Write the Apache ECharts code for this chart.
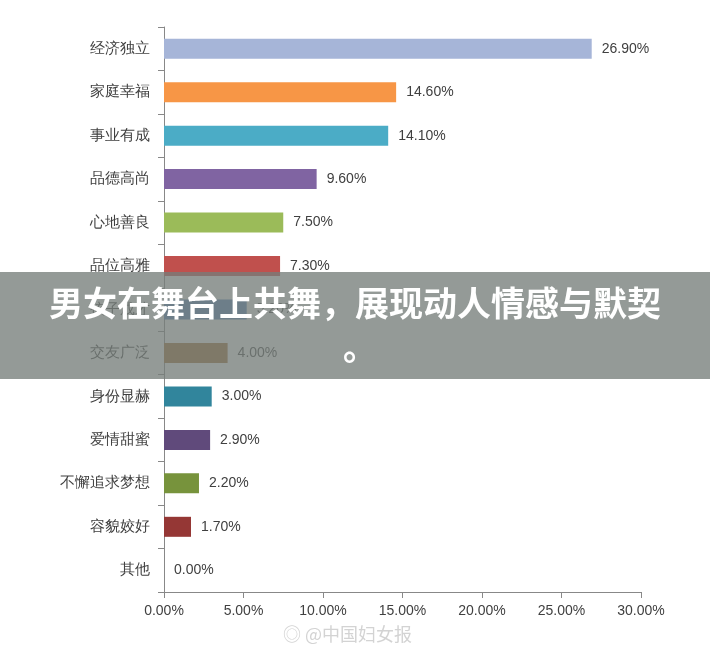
<!DOCTYPE html><html><head><meta charset="utf-8"><script src="https://cdn.jsdelivr.net/npm/echarts@6/dist/echarts.min.js"></script>
<style>body{margin:0}#c{width:710px;height:655px}</style></head><body><div id="c"></div><script>
const categories=['经济独立','家庭幸福','事业有成','品德高尚','心地善良','品位高雅','孩子成才','交友广泛','身份显赫','爱情甜蜜','不懈追求梦想','容貌姣好','其他'];
const values=[26.9,14.6,14.1,9.6,7.5,7.3,5.2,4.0,3.0,2.9,2.2,1.7,0.0];
const colors=['#a6b5d8','#f79646','#4bacc6','#8064a2','#9bbb59','#c0504d','#4f81bd','#a0682a','#31859c','#604a7b','#77933c','#953735','#888'];
const xTicks=[0,5,10,15,20,25,30];
const ch=echarts.init(document.getElementById('c'));
ch.setOption({animation:false,
grid:{left:164,right:69,top:27,bottom:63},
xAxis:{type:'value',min:0,max:30,interval:5,splitLine:{show:false},axisLine:{show:true,lineStyle:{color:'#888'}},axisTick:{show:true,length:6,lineStyle:{color:'#888'}},
axisLabel:{formatter:v=>v.toFixed(2)+'%',color:'#404040',fontSize:14,margin:12}},
yAxis:{type:'category',inverse:true,data:categories,axisLine:{lineStyle:{color:'#888'}},axisTick:{show:true,length:6,lineStyle:{color:'#888'}},
axisLabel:{color:'#404040',fontSize:15,margin:14}},
series:[{type:'bar',barWidth:20,data:values.map((v,i)=>({value:v,itemStyle:{color:colors[i]}})),
label:{show:true,position:'right',distance:10,formatter:p=>p.value.toFixed(2)+'%',color:'#404040',fontSize:14}}],
graphic:[
{type:'rect',shape:{x:0,y:272,width:710,height:107},style:{fill:'rgba(118,126,122,0.78)'},z:100},
{type:'text',left:'center',top:286,style:{text:'男女在舞台上共舞，展现动人情感与默契',fill:'#fff',font:'bold 34px "Noto Sans CJK SC"'},z:101},
{type:'text',left:343,top:330,style:{text:'。',fill:'#fff',font:'bold 34px "Noto Sans CJK SC"'},z:101},
{type:'text',left:283,top:625,style:{text:'◎ @中国妇女报',fill:'rgba(200,200,200,0.8)',font:'18px "Noto Sans CJK SC"'},z:101}
]});
</script></body></html>
